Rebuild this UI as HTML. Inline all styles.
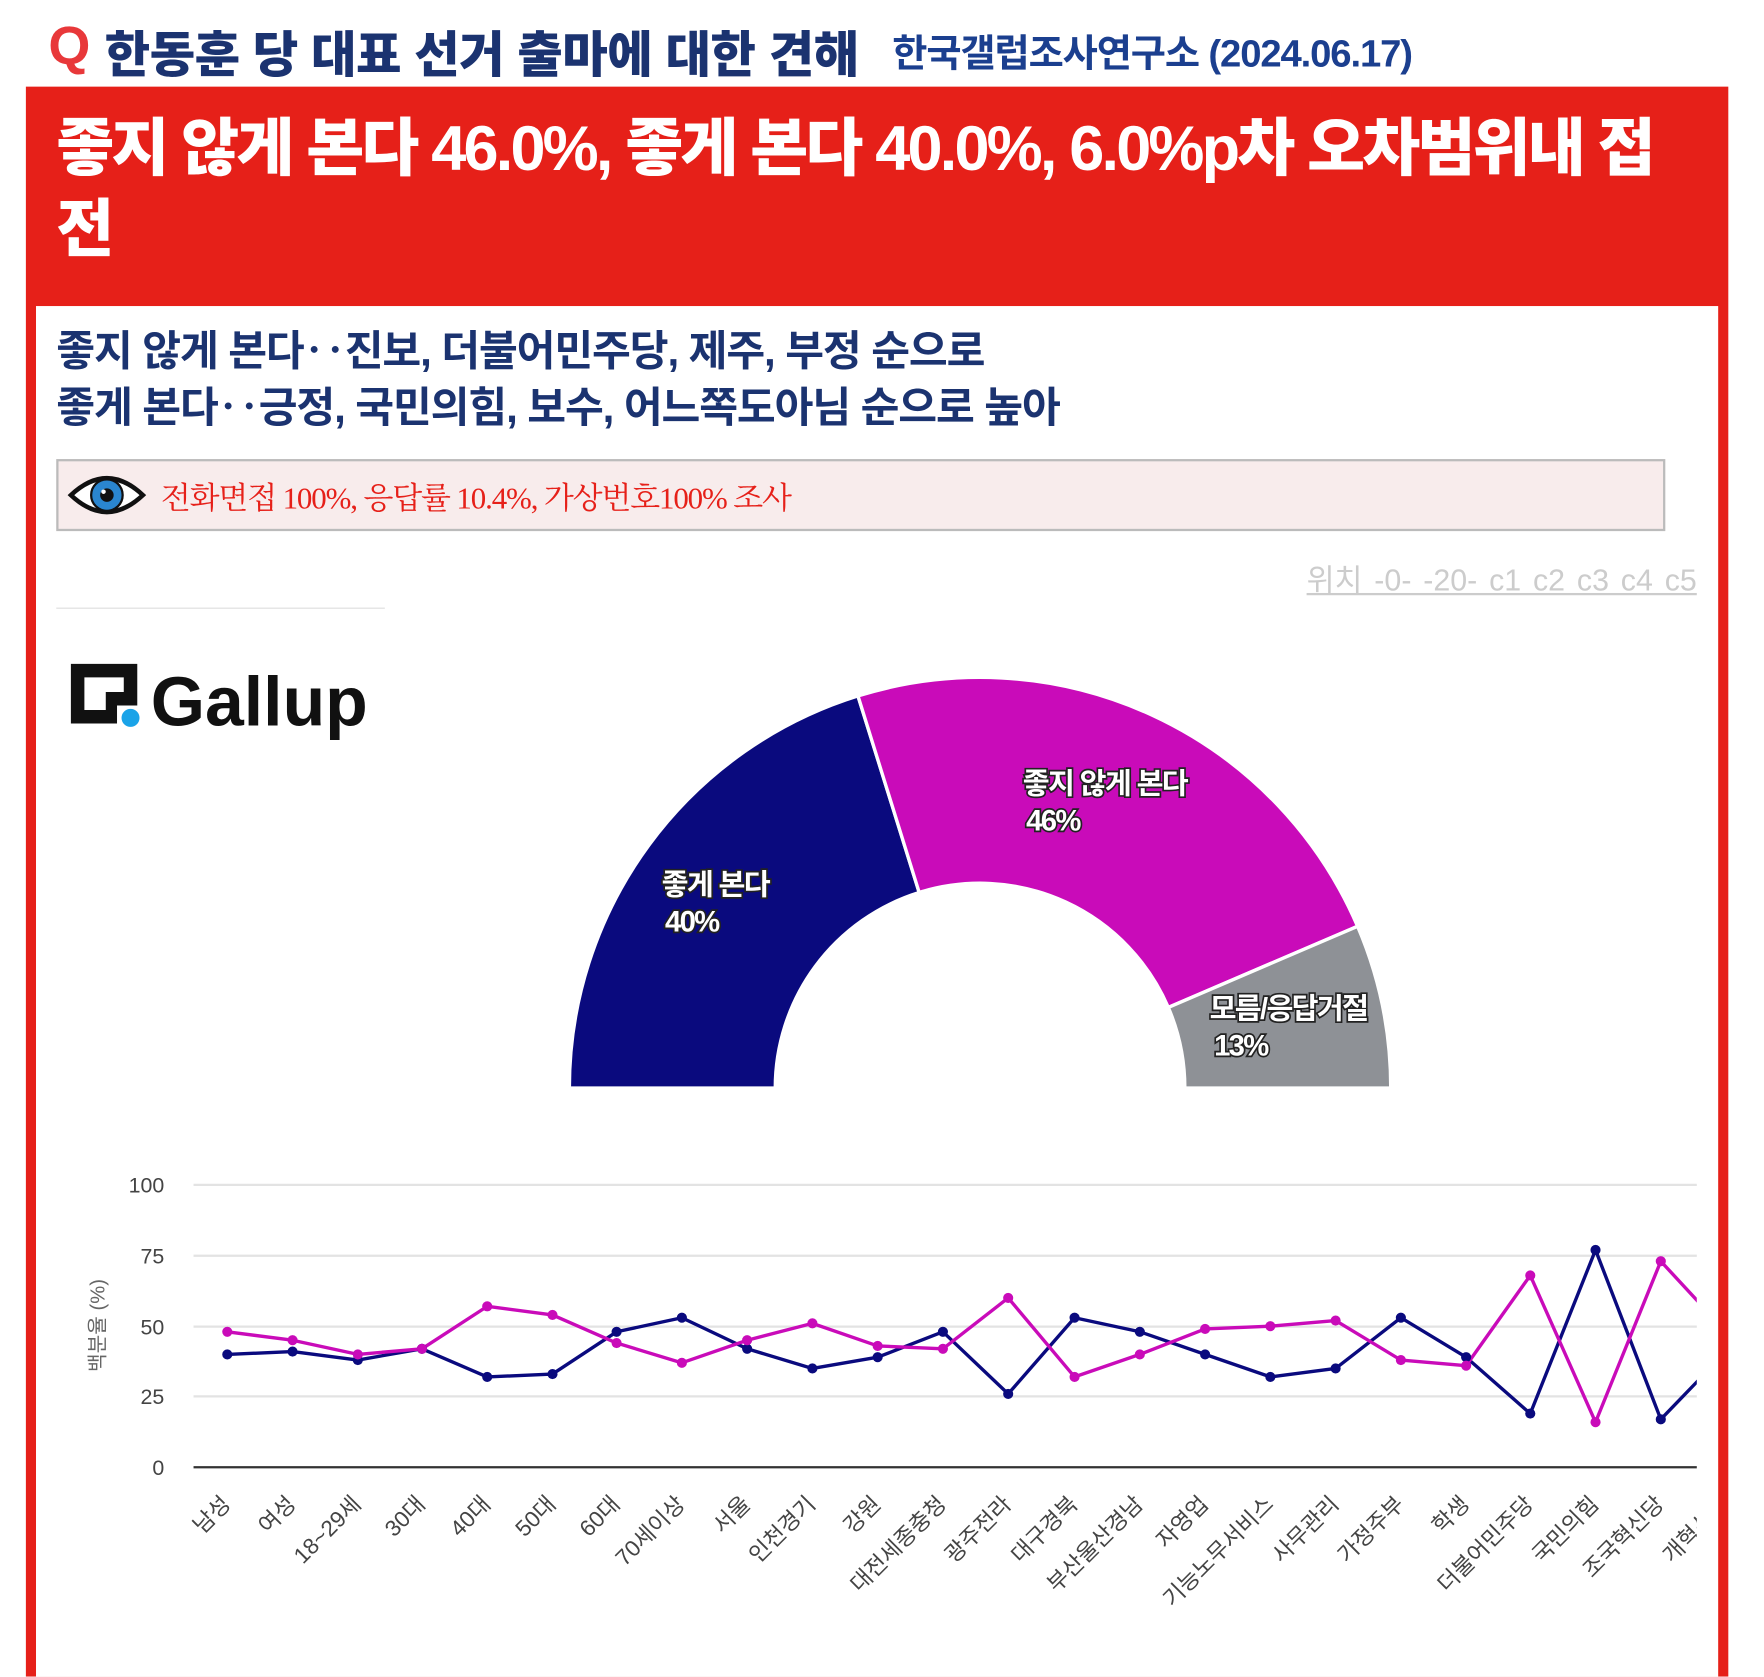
<!DOCTYPE html>
<html><head><meta charset="utf-8">
<style>
html,body{margin:0;padding:0;background:#fff;width:1764px;height:1676px;overflow:hidden}
#w{position:absolute;left:0;top:0;width:1560px;height:1490px;transform:scale(1.1252);transform-origin:0 0;font-family:"Liberation Sans","Noto Sans CJK KR",sans-serif}
.a{position:absolute;white-space:nowrap}
</style></head><body><div id="w">
<div class="a" style="left:43px;top:14px;font-size:48px;font-weight:bold;color:#e8383a">Q</div>
<div class="a" style="left:93px;top:13px;font-size:44px;font-weight:900;color:#1b3370;letter-spacing:-0.5px">한동훈 당 대표 선거 출마에 대한 견해</div>
<div class="a" style="left:793px;top:20px;font-size:34px;font-weight:bold;color:#1b3f8f;letter-spacing:-1px">한국갤럽조사연구소 (2024.06.17)</div>
<div class="a" style="left:23px;top:77px;width:1513px;height:1413px;background:#e62019"></div>
<div class="a" style="left:32px;top:272px;width:1495px;height:1218px;background:#fff"></div>
<div class="a" style="left:50px;top:96px;font-size:56px;font-weight:900;color:#fff;letter-spacing:-2.5px;line-height:72px">좋지 않게 본다 46.0%, 좋게 본다 40.0%, 6.0%p차 오차범위내 접<br>전</div>
<div class="a" style="left:50px;top:287px;font-size:37.5px;font-weight:bold;color:#1b3370;letter-spacing:-1px;line-height:50px">좋지 않게 본다‥진보, 더불어민주당, 제주, 부정 순으로<br>좋게 본다‥긍정, 국민의힘, 보수, 어느쪽도아님 순으로 높아</div>
<div class="a" style="left:50px;top:408px;width:1426px;height:60px;background:#f8ecec;border:2px solid #bbb"></div>
<svg class="a" style="left:60px;top:414px" width="70" height="52"><path d="M3,26 Q35,-4 67,26 Q35,56 3,26Z" fill="#fff" stroke="#111" stroke-width="4"/><circle cx="35" cy="26" r="14" fill="#2a86d0" stroke="#111" stroke-width="2"/><circle cx="35" cy="26" r="6" fill="#111"/><circle cx="32" cy="23" r="2" fill="#fff"/></svg>
<div class="a" style="left:143px;top:420px;font-size:27.5px;color:#e62019;font-family:'Liberation Serif','Noto Serif CJK SC',serif;letter-spacing:-1px">전화면접 100%, 응답률 10.4%, 가상번호100% 조사</div>
<div class="a" style="right:52px;top:494px;font-size:27px;color:#ccc;text-decoration:underline;word-spacing:3px">위치 -0- -20- c1 c2 c3 c4 c5</div>
<div class="a" style="left:50px;top:540px;width:292px;height:1px;background:#ddd"></div>
<svg class="a" style="left:60px;top:585px" width="290" height="85"><path d="M3,5 H62 V42 H44 V58 H3Z M15,17 V46 H34 V30 H50 V17Z" fill="#111" fill-rule="evenodd"/><circle cx="56" cy="53" r="8" fill="#1aa3e8"/><text x="74" y="60" font-size="62" font-weight="bold" fill="#111" font-family="Liberation Sans,sans-serif">Gallup</text></svg>
<svg class="a" style="left:0;top:0" width="1560" height="1490">
<g stroke="#fff" stroke-width="3" stroke-linejoin="round">
<path d="M506,967 A365,365 0 0 1 762.5,618.5 L816.9,793.2 A182,182 0 0 0 689,967 Z" fill="#0a0a7e"/>
<path d="M762.5,618.5 A365,365 0 0 1 1206.5,823.2 L1038.3,895.3 A182,182 0 0 0 816.9,793.2 Z" fill="#c90bb9"/>
<path d="M1206.5,823.2 A365,365 0 0 1 1236,967 L1053,967 A182,182 0 0 0 1038.3,895.3 Z" fill="#8e9196"/>
</g>
<g font-size="26" font-weight="bold" fill="#fff" stroke="#222" stroke-width="3" paint-order="stroke" letter-spacing="-1.5">
<text x="588" y="795">좋게 본다</text><text x="591" y="828">40%</text>
<text x="909" y="705">좋지 않게 본다</text><text x="912" y="738">46%</text>
<text x="1075" y="905">모름/응답거절</text><text x="1079" y="938">13%</text>
</g>
<g stroke="#e3e3e3" stroke-width="2"><line x1="172" x2="1508" y1="1053" y2="1053"/><line x1="172" x2="1508" y1="1116" y2="1116"/><line x1="172" x2="1508" y1="1179" y2="1179"/><line x1="172" x2="1508" y1="1241" y2="1241"/></g>
<line x1="172" x2="1508" y1="1304" y2="1304" stroke="#333" stroke-width="2"/>
<g font-size="19" fill="#444" text-anchor="end"><text x="146" y="1060">100</text><text x="146" y="1123">75</text><text x="146" y="1186">50</text><text x="146" y="1248">25</text><text x="146" y="1311">0</text></g>
<text transform="translate(93,1178) rotate(-90)" font-size="18" fill="#666" text-anchor="middle">백분율 (%)</text>
<defs><clipPath id="c"><rect x="150" y="1000" width="1358" height="320"/></clipPath></defs>
<g clip-path="url(#c)" fill="none" stroke-width="3" stroke-linejoin="round">
<polyline stroke="#0a0a7e" points="202,1203.7 260,1201.2 318,1208.7 375,1198.7 433,1223.7 491,1221.2 548,1183.6 606,1171.1 664,1198.7 722,1216.2 780,1206.2 838,1183.6 896,1238.8 955,1171.1 1013,1183.6 1071,1203.7 1129,1223.7 1187,1216.2 1245,1171.1 1303,1206.2 1360,1256.3 1418,1110.9 1476,1261.4 1534,1201.2"/>
<polyline stroke="#c90bb9" points="202,1183.6 260,1191.1 318,1203.7 375,1198.7 433,1161 491,1168.6 548,1193.6 606,1211.2 664,1191.1 722,1176.1 780,1196.2 838,1198.7 896,1153.5 955,1223.7 1013,1203.7 1071,1181.1 1129,1178.6 1187,1173.6 1245,1208.7 1303,1213.7 1360,1133.5 1418,1263.9 1476,1120.9 1534,1183.6"/>
<g fill="#0a0a7e" stroke="none"><circle cx="202" cy="1203.7" r="4.5"/><circle cx="260" cy="1201.2" r="4.5"/><circle cx="318" cy="1208.7" r="4.5"/><circle cx="375" cy="1198.7" r="4.5"/><circle cx="433" cy="1223.7" r="4.5"/><circle cx="491" cy="1221.2" r="4.5"/><circle cx="548" cy="1183.6" r="4.5"/><circle cx="606" cy="1171.1" r="4.5"/><circle cx="664" cy="1198.7" r="4.5"/><circle cx="722" cy="1216.2" r="4.5"/><circle cx="780" cy="1206.2" r="4.5"/><circle cx="838" cy="1183.6" r="4.5"/><circle cx="896" cy="1238.8" r="4.5"/><circle cx="955" cy="1171.1" r="4.5"/><circle cx="1013" cy="1183.6" r="4.5"/><circle cx="1071" cy="1203.7" r="4.5"/><circle cx="1129" cy="1223.7" r="4.5"/><circle cx="1187" cy="1216.2" r="4.5"/><circle cx="1245" cy="1171.1" r="4.5"/><circle cx="1303" cy="1206.2" r="4.5"/><circle cx="1360" cy="1256.3" r="4.5"/><circle cx="1418" cy="1110.9" r="4.5"/><circle cx="1476" cy="1261.4" r="4.5"/></g>
<g fill="#c90bb9" stroke="none"><circle cx="202" cy="1183.6" r="4.5"/><circle cx="260" cy="1191.1" r="4.5"/><circle cx="318" cy="1203.7" r="4.5"/><circle cx="375" cy="1198.7" r="4.5"/><circle cx="433" cy="1161" r="4.5"/><circle cx="491" cy="1168.6" r="4.5"/><circle cx="548" cy="1193.6" r="4.5"/><circle cx="606" cy="1211.2" r="4.5"/><circle cx="664" cy="1191.1" r="4.5"/><circle cx="722" cy="1176.1" r="4.5"/><circle cx="780" cy="1196.2" r="4.5"/><circle cx="838" cy="1198.7" r="4.5"/><circle cx="896" cy="1153.5" r="4.5"/><circle cx="955" cy="1223.7" r="4.5"/><circle cx="1013" cy="1203.7" r="4.5"/><circle cx="1071" cy="1181.1" r="4.5"/><circle cx="1129" cy="1178.6" r="4.5"/><circle cx="1187" cy="1173.6" r="4.5"/><circle cx="1245" cy="1208.7" r="4.5"/><circle cx="1303" cy="1213.7" r="4.5"/><circle cx="1360" cy="1133.5" r="4.5"/><circle cx="1418" cy="1263.9" r="4.5"/><circle cx="1476" cy="1120.9" r="4.5"/></g>
</g>
<defs><clipPath id="c2"><rect x="100" y="1310" width="1408" height="180"/></clipPath></defs>
<g font-size="20" fill="#444" text-anchor="end" clip-path="url(#c2)">
<text transform="translate(206,1338) rotate(-45)">남성</text>
<text transform="translate(264,1338) rotate(-45)">여성</text>
<text transform="translate(322,1338) rotate(-45)">18~29세</text>
<text transform="translate(379,1338) rotate(-45)">30대</text>
<text transform="translate(437,1338) rotate(-45)">40대</text>
<text transform="translate(495,1338) rotate(-45)">50대</text>
<text transform="translate(552,1338) rotate(-45)">60대</text>
<text transform="translate(610,1338) rotate(-45)">70세이상</text>
<text transform="translate(668,1338) rotate(-45)">서울</text>
<text transform="translate(726,1338) rotate(-45)">인천경기</text>
<text transform="translate(784,1338) rotate(-45)">강원</text>
<text transform="translate(842,1338) rotate(-45)">대전세종충청</text>
<text transform="translate(900,1338) rotate(-45)">광주전라</text>
<text transform="translate(959,1338) rotate(-45)">대구경북</text>
<text transform="translate(1017,1338) rotate(-45)">부산울산경남</text>
<text transform="translate(1075,1338) rotate(-45)">자영업</text>
<text transform="translate(1133,1338) rotate(-45)">기능노무서비스</text>
<text transform="translate(1191,1338) rotate(-45)">사무관리</text>
<text transform="translate(1249,1338) rotate(-45)">가정주부</text>
<text transform="translate(1307,1338) rotate(-45)">학생</text>
<text transform="translate(1364,1338) rotate(-45)">더불어민주당</text>
<text transform="translate(1422,1338) rotate(-45)">국민의힘</text>
<text transform="translate(1480,1338) rotate(-45)">조국혁신당</text>
<text transform="translate(1538,1338) rotate(-45)">개혁신당</text>
<text transform="translate(1596,1338) rotate(-45)">지지정당없음</text>
</g>
</svg>
</div></body></html>
